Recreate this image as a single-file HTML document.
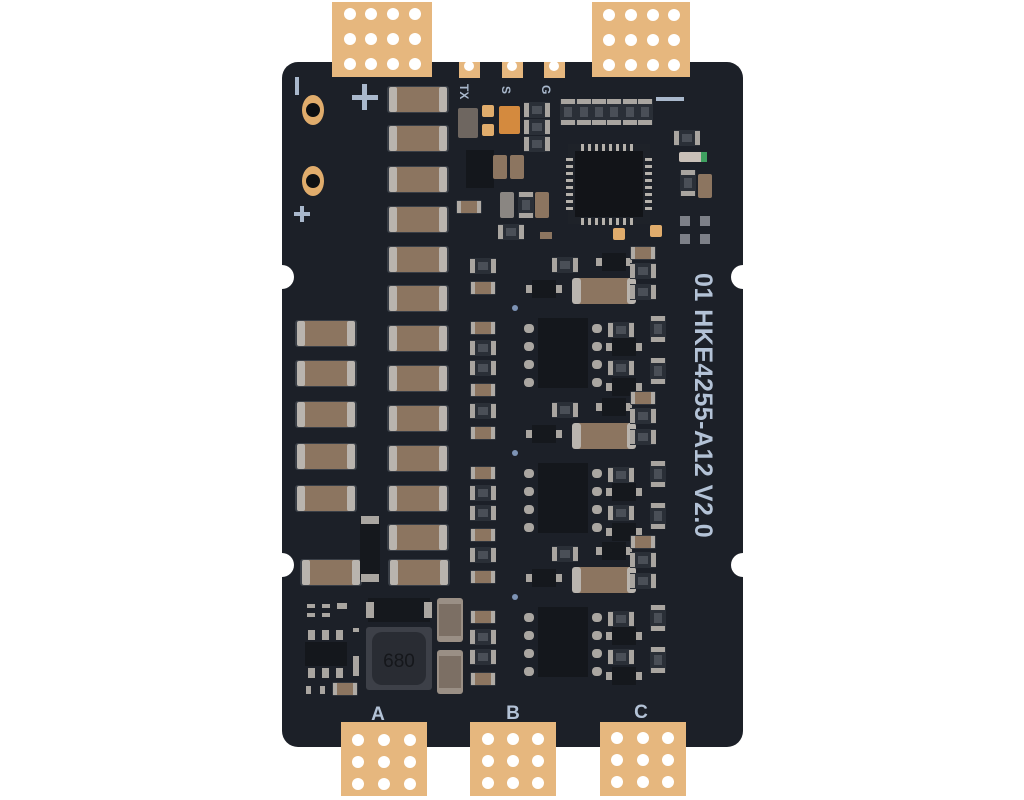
<!DOCTYPE html>
<html><head><meta charset="utf-8"><style>
html,body{margin:0;padding:0;background:#fff;}
svg{display:block;}
text{font-family:"Liberation Sans",sans-serif;}
</style></head><body>
<svg width="1024" height="800" viewBox="0 0 1024 800" xmlns="http://www.w3.org/2000/svg">
<defs>
  <g id="cap">
    <rect x="0" y="0" width="62" height="27" rx="3" fill="#3a3f47"/>
    <rect x="6" y="1" width="50" height="25" rx="2" fill="#8c7560"/>
    <rect x="2" y="1" width="8" height="25" rx="2" fill="#b9b4ae"/>
    <rect x="52" y="1" width="8" height="25" rx="2" fill="#b9b4ae"/>
  </g>
  <g id="capv">
    <rect x="0" y="0" width="26" height="44" rx="3" fill="#9a8f85"/>
    <rect x="2" y="6" width="22" height="32" fill="#7c6f64"/>
  </g>
  <g id="res">
    <rect x="0" y="0" width="26" height="16" fill="#2a2f37"/>
    <rect x="0" y="1" width="5" height="14" fill="#a9a5a0"/>
    <rect x="21" y="1" width="5" height="14" fill="#a9a5a0"/>
    <rect x="8" y="4" width="10" height="8" fill="#4a4f57"/>
  </g>
  <g id="resv">
    <rect x="0" y="0" width="16" height="26" fill="#2a2f37"/>
    <rect x="1" y="0" width="14" height="5" fill="#a9a5a0"/>
    <rect x="1" y="21" width="14" height="5" fill="#a9a5a0"/>
    <rect x="4" y="8" width="8" height="10" fill="#4a4f57"/>
  </g>
  <g id="smallcap">
    <rect x="0" y="0" width="26" height="14" rx="2" fill="#2f343c"/>
    <rect x="4" y="1" width="18" height="12" fill="#8c7560"/>
    <rect x="1" y="1" width="4" height="12" fill="#b0aba5"/>
    <rect x="21" y="1" width="4" height="12" fill="#b0aba5"/>
  </g>
  <g id="sot">
    <rect x="0" y="0" width="24" height="18" fill="#15181d"/>
    <rect x="-6" y="5" width="6" height="8" fill="#a9a5a0"/>
    <rect x="24" y="5" width="6" height="8" fill="#a9a5a0"/>
  </g>
  <g id="mosfet">
    <rect x="0" y="0" width="50" height="70" fill="#14171c"/>
    <rect x="-14" y="6" width="10" height="9" rx="4" fill="#aaa6a1"/>
    <rect x="-14" y="24" width="10" height="9" rx="4" fill="#aaa6a1"/>
    <rect x="-14" y="42" width="10" height="9" rx="4" fill="#aaa6a1"/>
    <rect x="-14" y="60" width="10" height="9" rx="4" fill="#aaa6a1"/>
    <rect x="54" y="6" width="10" height="9" rx="4" fill="#aaa6a1"/>
    <rect x="54" y="24" width="10" height="9" rx="4" fill="#aaa6a1"/>
    <rect x="54" y="42" width="10" height="9" rx="4" fill="#aaa6a1"/>
    <rect x="54" y="60" width="10" height="9" rx="4" fill="#aaa6a1"/>
  </g>
  <g id="stage">
    <use href="#res" x="0" y="0"/>
    <use href="#smallcap" x="0" y="23"/>
    <use href="#sot" x="62" y="22"/>
    <use href="#res" x="82" y="-1"/>
    <use href="#sot" x="132" y="-5"/>
    <rect x="104" y="20" width="60" height="26" rx="4" fill="#8c7560"/>
    <rect x="102" y="20" width="9" height="26" rx="3" fill="#b9b4ae"/>
    <rect x="157" y="20" width="9" height="26" rx="3" fill="#b9b4ae"/>
    <use href="#smallcap" x="160" y="-12"/>
    <use href="#res" x="160" y="5"/>
    <use href="#res" x="160" y="26"/>
    <use href="#mosfet" x="68" y="60"/>
    <use href="#smallcap" x="0" y="63"/>
    <use href="#res" x="0" y="82"/>
    <use href="#res" x="0" y="102"/>
    <use href="#smallcap" x="0" y="125"/>
    <use href="#res" x="138" y="64"/>
    <use href="#sot" x="142" y="80"/>
    <use href="#res" x="138" y="102"/>
    <use href="#sot" x="142" y="120"/>
    <use href="#resv" x="180" y="58"/>
    <use href="#resv" x="180" y="100"/>
    <circle cx="45" cy="50" r="3" fill="#7d93b5"/>
  </g>
</defs>

<!-- board -->
<rect x="282" y="62" width="461" height="685" rx="16" fill="#1c2028"/>

<!-- tabs -->
<rect x="332" y="2" width="100" height="75" fill="#e6b77e"/>
<rect x="592" y="2" width="98" height="75" fill="#e6b77e"/>
<rect x="341" y="722" width="86" height="74" fill="#e6b77e"/>
<rect x="470" y="722" width="86" height="74" fill="#e6b77e"/>
<rect x="600" y="722" width="86" height="74" fill="#e6b77e"/>
<g fill="#fff">
  <circle cx="350" cy="14" r="6"/><circle cx="371" cy="14" r="6"/><circle cx="393" cy="14" r="6"/><circle cx="415" cy="14" r="6"/>
  <circle cx="350" cy="39" r="6"/><circle cx="371" cy="39" r="6"/><circle cx="393" cy="39" r="6"/><circle cx="415" cy="39" r="6"/>
  <circle cx="350" cy="64" r="6"/><circle cx="371" cy="64" r="6"/><circle cx="393" cy="64" r="6"/><circle cx="415" cy="64" r="6"/>
  <circle cx="609" cy="15" r="6"/><circle cx="631" cy="15" r="6"/><circle cx="653" cy="15" r="6"/><circle cx="674" cy="15" r="6"/>
  <circle cx="609" cy="40" r="6"/><circle cx="631" cy="40" r="6"/><circle cx="653" cy="40" r="6"/><circle cx="674" cy="40" r="6"/>
  <circle cx="609" cy="65" r="6"/><circle cx="631" cy="65" r="6"/><circle cx="653" cy="65" r="6"/><circle cx="674" cy="65" r="6"/>
  <circle cx="358" cy="740" r="6"/><circle cx="384" cy="740" r="6"/><circle cx="410" cy="740" r="6"/>
  <circle cx="358" cy="762" r="6"/><circle cx="384" cy="762" r="6"/><circle cx="410" cy="762" r="6"/>
  <circle cx="358" cy="784" r="6"/><circle cx="384" cy="784" r="6"/><circle cx="410" cy="784" r="6"/>
  <circle cx="488" cy="739" r="6"/><circle cx="513" cy="739" r="6"/><circle cx="538" cy="739" r="6"/>
  <circle cx="488" cy="761" r="6"/><circle cx="513" cy="761" r="6"/><circle cx="538" cy="761" r="6"/>
  <circle cx="488" cy="783" r="6"/><circle cx="513" cy="783" r="6"/><circle cx="538" cy="783" r="6"/>
  <circle cx="617" cy="738" r="6"/><circle cx="643" cy="738" r="6"/><circle cx="668" cy="738" r="6"/>
  <circle cx="617" cy="760" r="6"/><circle cx="643" cy="760" r="6"/><circle cx="668" cy="760" r="6"/>
  <circle cx="617" cy="782" r="6"/><circle cx="643" cy="782" r="6"/><circle cx="668" cy="782" r="6"/>
</g>
<!-- small top TX/S/G pads -->
<rect x="459" y="62" width="21" height="16" fill="#e6b77e"/><circle cx="469" cy="66" r="5" fill="#fff"/>
<rect x="502" y="62" width="21" height="16" fill="#e6b77e"/><circle cx="512" cy="66" r="5" fill="#fff"/>
<rect x="544" y="62" width="21" height="16" fill="#e6b77e"/><circle cx="554" cy="66" r="5" fill="#fff"/>
<!-- notches -->
<circle cx="282" cy="277" r="12" fill="#fff"/>
<circle cx="282" cy="565" r="12" fill="#fff"/>
<circle cx="743" cy="277" r="12" fill="#fff"/>
<circle cx="743" cy="565" r="12" fill="#fff"/>

<!-- silkscreen -->
<g fill="#a9b8cc">
  <rect x="295" y="77" width="4" height="18"/>
  <rect x="352" y="95" width="26" height="5"/><rect x="362" y="84" width="5" height="26"/>
  <rect x="294" y="212" width="16" height="4"/><rect x="300" y="206" width="4" height="16"/>
  <rect x="656" y="97" width="28" height="4"/>
</g>
<text transform="translate(460,84) rotate(90)" fill="#a9b8cc" font-size="12" font-weight="bold">TX</text>
<text transform="translate(502,86) rotate(90)" fill="#a9b8cc" font-size="12" font-weight="bold">S</text>
<text transform="translate(542,85) rotate(90)" fill="#a9b8cc" font-size="12" font-weight="bold">G</text>
<text transform="translate(695,273) rotate(90)" fill="#b3c2d6" font-size="25" font-weight="bold" letter-spacing="0.5">01 HKE4255-A12 V2.0</text>
<text x="378" y="720" fill="#b3c2d6" font-size="19" font-weight="bold" text-anchor="middle">A</text>
<text x="513" y="719" fill="#b3c2d6" font-size="19" font-weight="bold" text-anchor="middle">B</text>
<text x="641" y="718" fill="#b3c2d6" font-size="19" font-weight="bold" text-anchor="middle">C</text>

<!-- power pads -->
<ellipse cx="313" cy="110" rx="11" ry="15" fill="#e0ac6c"/><circle cx="313" cy="110" r="7" fill="#0d0f12"/>
<ellipse cx="313" cy="181" rx="11" ry="15" fill="#e0ac6c"/><circle cx="313" cy="181" r="7" fill="#0d0f12"/>

<!-- capacitor columns -->
<use href="#cap" x="387" y="86"/>
<use href="#cap" x="387" y="125"/>
<use href="#cap" x="387" y="166"/>
<use href="#cap" x="387" y="206"/>
<use href="#cap" x="387" y="246"/>
<use href="#cap" x="387" y="285"/>
<use href="#cap" x="387" y="325"/>
<use href="#cap" x="387" y="365"/>
<use href="#cap" x="387" y="405"/>
<use href="#cap" x="387" y="445"/>
<use href="#cap" x="387" y="485"/>
<use href="#cap" x="387" y="524"/>
<use href="#cap" x="388" y="559"/>
<use href="#cap" x="295" y="320"/>
<use href="#cap" x="295" y="360"/>
<use href="#cap" x="295" y="401"/>
<use href="#cap" x="295" y="443"/>
<use href="#cap" x="295" y="485"/>
<use href="#cap" x="300" y="559"/>
<rect x="360" y="518" width="20" height="62" fill="#15181d"/>
<rect x="361" y="516" width="18" height="8" fill="#a9a5a0"/>
<rect x="361" y="574" width="18" height="8" fill="#a9a5a0"/>

<!-- top right area -->
<rect x="458" y="108" width="20" height="30" rx="2" fill="#6e6660"/>
<rect x="482" y="105" width="12" height="12" rx="2" fill="#e0ac6c"/>
<rect x="482" y="124" width="12" height="12" rx="2" fill="#e0ac6c"/>
<rect x="499" y="106" width="21" height="28" rx="2" fill="#d48a3e"/>
<use href="#res" x="524" y="102"/>
<use href="#res" x="524" y="119"/>
<use href="#res" x="524" y="136"/>
<use href="#resv" x="560" y="99"/>
<use href="#resv" x="576" y="99"/>
<use href="#resv" x="591" y="99"/>
<use href="#resv" x="606" y="99"/>
<use href="#resv" x="622" y="99"/>
<use href="#resv" x="637" y="99"/>
<rect x="466" y="150" width="28" height="38" fill="#14171c"/>
<rect x="493" y="155" width="14" height="24" rx="2" fill="#8c7560"/>
<rect x="510" y="155" width="14" height="24" rx="2" fill="#8c7560"/>
<use href="#smallcap" x="456" y="200"/>
<rect x="500" y="192" width="14" height="26" rx="2" fill="#8a8682"/>
<use href="#resv" x="518" y="192"/>
<rect x="535" y="192" width="14" height="26" rx="2" fill="#8c7560"/>
<use href="#res" x="498" y="224"/>
<rect x="540" y="232" width="12" height="7" fill="#8c7560"/>
<!-- MCU -->
<rect x="568" y="144" width="82" height="80" fill="#1e2229"/>
<rect x="575" y="151" width="68" height="66" fill="#121418"/>
<g fill="#b5b1ab">
  <rect x="581" y="144" width="3" height="7"/><rect x="588" y="144" width="3" height="7"/><rect x="595" y="144" width="3" height="7"/><rect x="602" y="144" width="3" height="7"/><rect x="609" y="144" width="3" height="7"/><rect x="616" y="144" width="3" height="7"/><rect x="623" y="144" width="3" height="7"/><rect x="630" y="144" width="3" height="7"/>
  <rect x="581" y="218" width="3" height="7"/><rect x="588" y="218" width="3" height="7"/><rect x="595" y="218" width="3" height="7"/><rect x="602" y="218" width="3" height="7"/><rect x="609" y="218" width="3" height="7"/><rect x="616" y="218" width="3" height="7"/><rect x="623" y="218" width="3" height="7"/><rect x="630" y="218" width="3" height="7"/>
  <rect x="566" y="158" width="7" height="3"/><rect x="566" y="165" width="7" height="3"/><rect x="566" y="172" width="7" height="3"/><rect x="566" y="179" width="7" height="3"/><rect x="566" y="186" width="7" height="3"/><rect x="566" y="193" width="7" height="3"/><rect x="566" y="200" width="7" height="3"/><rect x="566" y="207" width="7" height="3"/>
  <rect x="645" y="158" width="7" height="3"/><rect x="645" y="165" width="7" height="3"/><rect x="645" y="172" width="7" height="3"/><rect x="645" y="179" width="7" height="3"/><rect x="645" y="186" width="7" height="3"/><rect x="645" y="193" width="7" height="3"/><rect x="645" y="200" width="7" height="3"/><rect x="645" y="207" width="7" height="3"/>
</g>
<rect x="613" y="228" width="12" height="12" rx="2" fill="#e0ac6c"/>
<rect x="650" y="225" width="12" height="12" rx="2" fill="#e0ac6c"/>
<use href="#res" x="674" y="130"/>
<rect x="679" y="152" width="28" height="10" rx="2" fill="#c9c0b8"/>
<rect x="701" y="152" width="6" height="10" fill="#3fa060"/>
<use href="#resv" x="680" y="170"/>
<rect x="698" y="174" width="14" height="24" rx="2" fill="#8c7560"/>
<rect x="680" y="216" width="10" height="10" fill="#7d8088"/>
<rect x="700" y="216" width="10" height="10" fill="#7d8088"/>
<rect x="680" y="234" width="10" height="10" fill="#7d8088"/>
<rect x="700" y="234" width="10" height="10" fill="#7d8088"/>

<!-- power stages -->
<use href="#stage" x="470" y="258"/>
<use href="#stage" x="470" y="403"/>
<use href="#stage" x="470" y="547"/>

<!-- buck converter area -->
<rect x="368" y="598" width="62" height="24" fill="#15181d"/>
<rect x="366" y="602" width="8" height="16" fill="#a9a5a0"/>
<rect x="424" y="602" width="8" height="16" fill="#a9a5a0"/>
<rect x="366" y="627" width="66" height="63" rx="3" fill="#3d4048"/>
<rect x="372" y="632" width="54" height="53" rx="10" fill="#292c33"/>
<text x="399" y="667" fill="#15171b" font-size="19" text-anchor="middle">680</text>
<use href="#capv" x="437" y="598"/>
<use href="#capv" x="437" y="650"/>
<rect x="305" y="642" width="42" height="24" fill="#14171c"/>
<g fill="#a9a5a0">
  <rect x="308" y="630" width="7" height="10"/><rect x="322" y="630" width="7" height="10"/><rect x="336" y="630" width="7" height="10"/>
  <rect x="308" y="668" width="7" height="10"/><rect x="322" y="668" width="7" height="10"/><rect x="336" y="668" width="7" height="10"/>
  <rect x="307" y="604" width="8" height="4"/><rect x="322" y="604" width="8" height="4"/><rect x="337" y="603" width="10" height="6"/>
  <rect x="307" y="613" width="8" height="4"/><rect x="322" y="613" width="8" height="4"/>
  <rect x="353" y="628" width="6" height="4"/><rect x="353" y="656" width="6" height="20"/>
  <rect x="306" y="686" width="5" height="8"/><rect x="320" y="686" width="5" height="8"/>
</g>
<use href="#smallcap" x="332" y="682"/>
</svg>
</body></html>
